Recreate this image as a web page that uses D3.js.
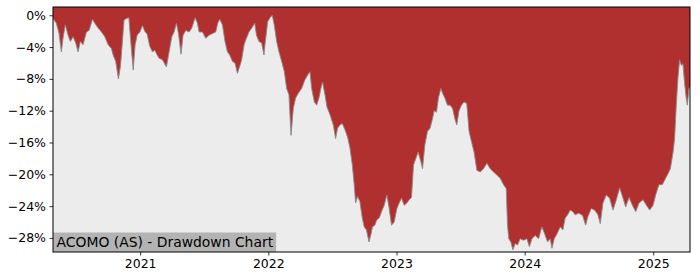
<!DOCTYPE html>
<html>
<head>
<meta charset="utf-8">
<script src="https://cdn.jsdelivr.net/npm/d3@7"></script>
<style>
  body { margin: 0; background: #fff; }
  svg { display: block; font-family: "DejaVu Sans", sans-serif; }
</style>
</head>
<body>
<div id="chart"></div>
<script>
// chart title shown in the box at bottom-left
const title = "ACOMO (AS) - Drawdown Chart";

// dates as decimal years
const dates = [
  2020.322, 2020.348, 2020.369, 2020.387, 2020.400, 2020.418, 2020.439, 2020.457, 2020.478, 2020.499,
  2020.517, 2020.535, 2020.556, 2020.582, 2020.603, 2020.629, 2020.647, 2020.673, 2020.699, 2020.725,
  2020.751, 2020.777, 2020.790, 2020.810, 2020.831, 2020.847, 2020.862, 2020.875, 2020.894, 2020.912,
  2020.925, 2020.946, 2020.961, 2020.977, 2020.998, 2021.018, 2021.036, 2021.055, 2021.075, 2021.096,
  2021.114, 2021.133, 2021.148, 2021.174, 2021.205, 2021.226, 2021.247, 2021.265, 2021.283, 2021.299,
  2021.319, 2021.335, 2021.356, 2021.382, 2021.403, 2021.429, 2021.447, 2021.460, 2021.486, 2021.512,
  2021.538, 2021.564, 2021.590, 2021.605, 2021.621, 2021.642, 2021.662, 2021.681, 2021.699, 2021.720,
  2021.740, 2021.759, 2021.777, 2021.792, 2021.811, 2021.829, 2021.849, 2021.875, 2021.894, 2021.907,
  2021.927, 2021.948, 2021.966, 2021.974, 2021.995, 2022.013, 2022.031, 2022.047, 2022.065, 2022.083,
  2022.104, 2022.125, 2022.143, 2022.161, 2022.177, 2022.195, 2022.213, 2022.234, 2022.260, 2022.286,
  2022.307, 2022.325, 2022.338, 2022.359, 2022.377, 2022.395, 2022.410, 2022.423, 2022.442, 2022.457,
  2022.481, 2022.507, 2022.525, 2022.540, 2022.559, 2022.577, 2022.598, 2022.618, 2022.637, 2022.655,
  2022.670, 2022.681, 2022.696, 2022.714, 2022.733, 2022.748, 2022.766, 2022.785, 2022.800, 2022.813,
  2022.831, 2022.847, 2022.865, 2022.883, 2022.904, 2022.925, 2022.943, 2022.961, 2022.982, 2023.003,
  2023.021, 2023.039, 2023.060, 2023.081, 2023.099, 2023.117, 2023.133, 2023.151, 2023.169, 2023.190,
  2023.203, 2023.221, 2023.242, 2023.262, 2023.281, 2023.294, 2023.312, 2023.327, 2023.346, 2023.359,
  2023.377, 2023.398, 2023.418, 2023.437, 2023.455, 2023.470, 2023.488, 2023.507, 2023.527, 2023.548,
  2023.566, 2023.585, 2023.605, 2023.627, 2023.653, 2023.679, 2023.705, 2023.731, 2023.757, 2023.783,
  2023.809, 2023.835, 2023.856, 2023.866, 2023.876, 2023.892, 2023.908, 2023.926, 2023.944, 2023.965,
  2023.991, 2024.017, 2024.037, 2024.056, 2024.082, 2024.108, 2024.134, 2024.160, 2024.178, 2024.199,
  2024.212, 2024.230, 2024.251, 2024.277, 2024.297, 2024.315, 2024.334, 2024.354, 2024.375, 2024.393,
  2024.419, 2024.445, 2024.453, 2024.474, 2024.492, 2024.518, 2024.544, 2024.570, 2024.588, 2024.609,
  2024.635, 2024.661, 2024.687, 2024.713, 2024.739, 2024.765, 2024.786, 2024.812, 2024.838, 2024.864,
  2024.890, 2024.921, 2024.947, 2024.973, 2024.999, 2025.019, 2025.045, 2025.071, 2025.090, 2025.116,
  2025.134, 2025.155, 2025.167, 2025.180, 2025.193, 2025.206, 2025.219, 2025.232, 2025.245, 2025.258,
  2025.266, 2025.279, 2025.287
];

// drawdown in percent
const drawdown = [
  -0.4, -1.0, -2.3, -4.6, -2.9, -1.2, -2.5, -3.3, -2.7, -3.5,
  -4.6, -3.3, -3.7, -2.1, -1.9, -0.5, -1.0, -1.6, -2.1, -2.7,
  -3.7, -4.2, -5.0, -5.8, -8.0, -6.4, -3.3, -0.6, -0.4, -0.3,
  -2.9, -6.9, -3.7, -2.5, -2.1, -1.3, -2.0, -2.4, -3.9, -4.6,
  -4.4, -5.0, -5.4, -5.6, -6.5, -4.6, -2.7, -2.1, -1.0, -2.3,
  -4.9, -2.5, -1.9, -2.1, -1.6, -0.3, -1.0, -2.1, -2.1, -2.9,
  -2.5, -2.3, -2.1, -1.0, -0.5, -1.2, -3.3, -4.6, -5.0, -5.8,
  -6.0, -7.3, -6.4, -5.6, -3.7, -2.9, -2.1, -1.5, -1.0, -2.5,
  -3.3, -3.5, -5.0, -3.7, -0.8, -0.3, 0.0, -1.3, -3.3, -4.6,
  -5.8, -7.1, -9.2, -10.0, -15.1, -11.7, -10.4, -9.8, -9.2, -8.1,
  -7.5, -7.1, -9.2, -10.9, -11.3, -10.4, -9.2, -8.4, -10.0, -11.5,
  -12.5, -13.8, -15.5, -14.2, -13.8, -13.6, -14.4, -15.3, -16.7, -18.8,
  -21.3, -23.6, -22.8, -23.4, -25.5, -26.6, -27.0, -28.5, -27.6, -26.6,
  -26.4, -25.7, -25.5, -24.7, -23.9, -22.6, -24.3, -26.4, -26.0, -24.3,
  -23.6, -23.0, -23.9, -23.6, -23.2, -22.9, -18.8, -18.0, -17.2, -18.4,
  -19.3, -16.3, -14.6, -14.2, -13.0, -12.0, -12.2, -10.4, -9.2, -9.8,
  -10.4, -11.3, -11.3, -11.7, -13.0, -13.8, -12.0, -11.3, -10.9, -11.1,
  -14.6, -15.9, -17.2, -19.5, -19.7, -19.3, -18.6, -19.3, -19.7, -20.1,
  -20.5, -21.3, -21.8, -26.4, -28.1, -28.5, -29.5, -28.7, -28.9, -28.1,
  -28.3, -28.1, -29.1, -28.1, -27.7, -28.1, -26.6, -27.7, -28.5, -28.1,
  -29.3, -28.1, -27.5, -26.6, -27.0, -25.5, -25.1, -24.5, -24.7, -25.1,
  -24.9, -25.1, -25.3, -26.4, -25.3, -24.3, -24.5, -25.1, -26.2, -23.6,
  -22.6, -23.0, -24.5, -23.2, -21.7, -23.0, -24.1, -22.9, -23.9, -24.7,
  -23.6, -23.2, -23.9, -24.5, -23.9, -22.6, -21.3, -21.3, -20.7, -19.9,
  -19.3, -17.2, -15.5, -11.3, -7.9, -5.6, -6.3, -6.1, -8.6, -10.5,
  -11.3, -9.2, -9.0
];

// axis ticks
const yTicks = [0, -4, -8, -12, -16, -20, -24, -28];
const yDomain = [-29.77, 1.04];

function yearToDate(y) {
  const yr = Math.floor(y);
  const start = Date.UTC(yr, 0, 1), end = Date.UTC(yr + 1, 0, 1);
  return new Date(start + (y - yr) * (end - start));
}

const data = dates.map((d, i) => ({ date: yearToDate(d), value: drawdown[i] }));

const width = 700, height = 280;
const margin = { top: 7, right: 10, bottom: 28, left: 53 };
const innerW = width - margin.left - margin.right;
const innerH = height - margin.top - margin.bottom;

const svg = d3.select("#chart").append("svg")
  .attr("width", width)
  .attr("height", height);

const g = svg.append("g")
  .attr("transform", `translate(${margin.left},${margin.top})`);

const x = d3.scaleUtc()
  .domain(d3.extent(data, d => d.date))
  .range([0, innerW]);

const y = d3.scaleLinear()
  .domain(yDomain)
  .range([innerH, 0]);

g.append("clipPath").attr("id", "clip")
  .append("rect").attr("width", innerW).attr("height", innerH);

// plot background
g.append("rect")
  .attr("width", innerW)
  .attr("height", innerH)
  .attr("fill", "#ececec");

const plot = g.append("g").attr("clip-path", "url(#clip)");

// red area from the top of the plot down to the drawdown curve
const area = d3.area()
  .x(d => x(d.date))
  .y0(y(yDomain[1]))
  .y1(d => y(d.value));

plot.append("path")
  .datum(data)
  .attr("d", area)
  .attr("fill", "#b03030");

plot.append("path")
  .datum(data)
  .attr("d", d3.line().x(d => x(d.date)).y(d => y(d.value)))
  .attr("fill", "none")
  .attr("stroke", "#8a8a8a")
  .attr("stroke-width", 0.9);

// title box
const label = g.append("g");
const labelText = label.append("text")
  .attr("x", 3.5)
  .attr("y", innerH - 5.5)
  .attr("font-size", "13.9px")
  .attr("fill", "#000")
  .text(title);
const bb = labelText.node().getBBox();
label.insert("rect", "text")
  .attr("x", 0)
  .attr("y", innerH - 19.5)
  .attr("width", bb.x + bb.width + 2.5)
  .attr("height", 19.5)
  .attr("fill", "#b3b3b3");

// axes
const yAxis = d3.axisLeft(y)
  .tickValues(yTicks)
  .tickSize(3.5)
  .tickPadding(3.5)
  .tickFormat(d => d3.format("d")(d).replace("-", "\u2212") + "%");

const xAxis = d3.axisBottom(x)
  .ticks(d3.utcYear.every(1))
  .tickSize(3.5)
  .tickPadding(3.5)
  .tickFormat(d3.utcFormat("%Y"));

const gy = g.append("g").call(yAxis);
const gx = g.append("g").attr("transform", `translate(0,${innerH})`).call(xAxis);

[gx, gy].forEach(a => {
  a.select(".domain").remove();
  a.selectAll("text").attr("font-size", "12.5px").attr("fill", "#000")
    .attr("font-family", "DejaVu Sans, sans-serif");
  a.selectAll("line").attr("stroke", "#000").attr("stroke-width", 0.8);
});

// frame
g.append("rect")
  .attr("width", innerW)
  .attr("height", innerH)
  .attr("fill", "none")
  .attr("stroke", "#000")
  .attr("stroke-width", 1);
</script>
</body>
</html>
